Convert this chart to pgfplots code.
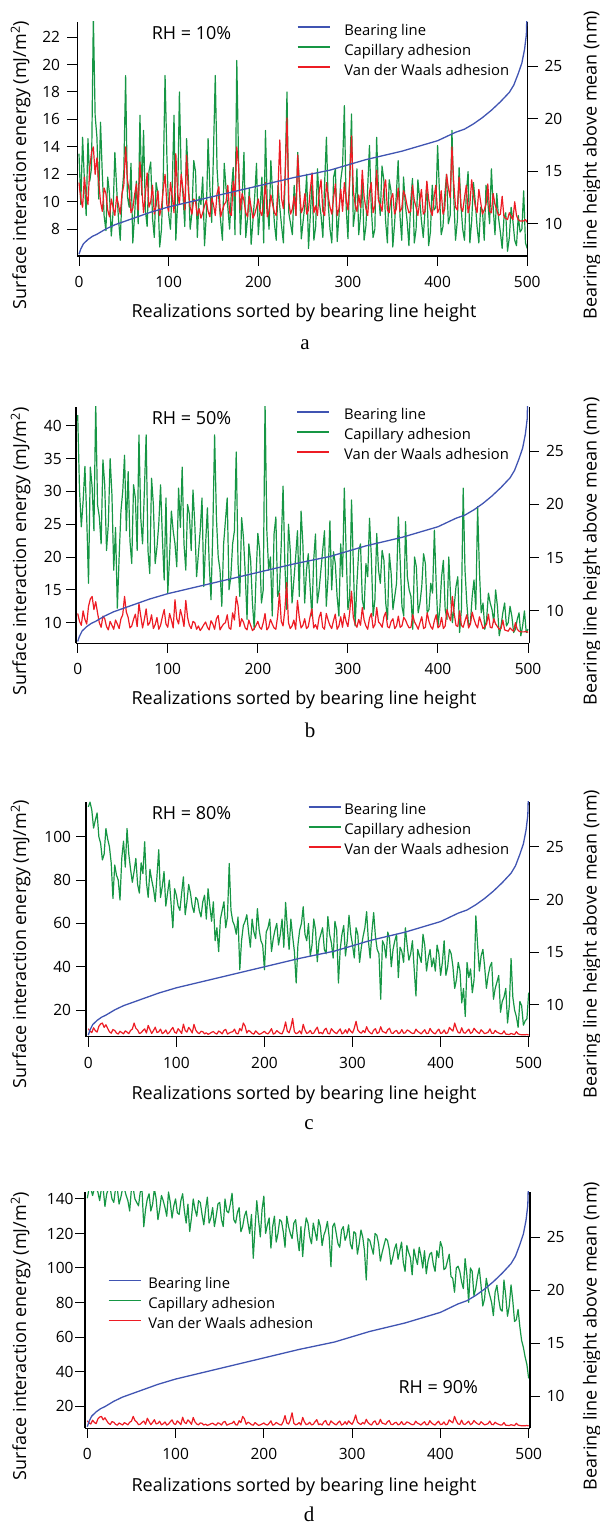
\documentclass[border=0pt]{standalone}
\usepackage{fontspec}
\setmainfont{Open Sans}
\newfontfamily\capfont{Liberation Serif}
\usepackage{pgfplots}
\pgfplotsset{compat=1.18}
\usepackage{pgfplotstable}
\definecolor{bearblue}{RGB}{64,84,178}
\definecolor{capgreen}{RGB}{22,150,68}
\definecolor{vdwred}{RGB}{237,28,36}

\pgfplotstableread{
x b
0 7.1
2 7.6
5 8.1
10 8.5
15 8.8
20 9.0
30 9.5
40 9.9
50 10.2
60 10.5
70 10.8
80 11.1
90 11.35
100 11.6
120 12.0
140 12.4
160 12.8
180 13.2
200 13.6
220 14.0
240 14.4
260 14.75
280 15.1
300 15.6
320 16.1
340 16.5
360 16.9
380 17.4
400 17.9
410 18.3
420 18.7
430 19.0
440 19.5
450 20.1
460 20.8
470 21.6
480 22.5
485 23.2
490 24.3
494 25.3
497 26.6
499 28.0
500 31
}\bearing

\pgfplotstableread{
x r ga gb gc gd
0 11.4 13.5 41.6 113.8 140.4
2 10.2 9.8 30.2 116.0 146
4 9.6 14.7 24.6 112.3 146
6 11.8 11.6 28.5 104.0 142
8 10.5 9.0 33.8 107.7 146
10 9.8 14.6 26.0 111.0 146
12 12.5 11.5 16.0 100.0 144
14 13.6 12.5 33.7 97.0 139
16 14.0 23.5 30.7 89.3 146
18 12.0 16.3 24.0 92.0 146
20 13.2 14.7 43.5 103.8 135.6
22 11.5 10.2 28.0 99.0 143
24 10.0 15.8 26.1 95.4 146
26 9.3 12.0 22.0 88.0 146
28 11.0 9.0 34.8 71.5 140
30 10.6 7.9 31.0 87.0 138
32 9.4 11.8 21.0 82.3 146
34 8.9 10.6 25.0 80.0 146
36 10.2 7.5 35.0 70.8 137
38 9.6 9.2 29.5 90.0 141
40 9.0 13.6 18.0 98.0 146
42 10.4 11.0 24.5 86.0 146
44 9.8 8.8 12.2 103.8 142
46 9.1 7.2 20.0 92.0 139
48 10.6 10.5 27.0 85.0 133
50 11.2 12.2 30.0 79.0 146
52 14.0 19.2 35.5 84.0 146
54 11.6 10.4 24.0 90.0 140
56 10.8 9.6 33.0 78.0 138
58 9.2 12.8 22.5 74.0 136
60 9.5 7.0 19.0 88.0 144
62 10.5 9.0 31.0 83.0 145
64 11.3 11.5 29.0 97.7 123.9
66 9.4 8.4 21.0 79.0 134
68 12.9 16.3 38.6 72.0 140
70 11.0 10.5 26.0 85.0 143
72 9.2 15.2 22.0 80.0 133
74 10.5 9.4 30.0 76.0 137
76 12.1 8.2 38.6 70.0 146
78 9.6 12.2 21.0 82.0 140
80 10.0 12.9 17.5 94.0 128
82 11.2 8.8 32.0 72.0 134
84 9.1 7.4 28.0 77.0 142
86 9.7 11.4 19.0 84.0 139
88 10.8 10.6 21.5 68.0 135
90 9.0 6.7 25.0 74.0 130
92 9.6 8.0 31.0 80.0 144
94 10.9 11.8 23.0 69.0 138
96 12.0 19.2 16.5 58.0 128.9
98 9.8 13.4 29.0 76.0 136
100 9.3 9.1 14.5 73.0 140
102 11.4 8.0 20.0 68.0 132
104 10.4 11.2 27.0 66.0 131
106 9.2 16.3 24.0 74.0 139
108 13.5 7.2 22.0 81.5 143
110 10.6 9.9 18.5 64.0 133
112 9.8 18.0 30.5 70.0 126
114 12.0 12.0 24.5 78.0 137
116 10.9 10.5 33.7 74.0 121.1
118 9.4 8.2 22.0 68.0 129
120 13.4 14.6 18.0 65.0 140
122 10.8 11.6 28.0 72.0 134
124 9.6 8.0 26.5 71.0 130
126 9.1 9.2 21.0 66.0 139
128 10.2 13.0 30.2 63.0 138
130 10.0 12.2 25.0 70.0 131
132 9.0 7.4 17.0 73.0 125
134 9.5 10.4 20.5 62.0 134
136 8.8 9.8 24.0 76.0 141
138 9.2 11.8 29.0 68.0 126
140 9.7 6.8 15.5 61.0 129
142 10.1 9.0 22.0 70.0 135
144 9.3 14.6 27.5 52.0 124
146 8.9 11.0 19.0 58.0 130
148 10.3 8.5 13.5 47.0 137
150 9.8 13.6 24.0 62.0 138
152 9.0 19.2 38.6 66.0 128
154 10.6 12.4 26.0 70.0 124
156 11.1 10.2 20.0 58.0 140
158 8.9 8.6 18.0 63.0 133
160 9.4 7.2 12.5 87.7 132
162 9.8 12.8 22.0 66.0 137
164 10.0 11.0 25.5 61.0 143.3
166 11.2 9.6 29.0 59.0 128
168 9.2 8.0 15.0 55.0 126
170 9.0 10.8 17.0 63.0 132
172 11.5 12.5 22.0 38.6 135
174 10.4 7.6 24.0 52.0 121
176 14.0 20.3 36.0 59.0 124
178 12.6 13.0 19.0 61.0 130
180 9.4 7.6 14.0 64.0 133
182 10.6 10.2 26.0 56.0 126
184 10.1 13.6 23.0 49.0 120
186 9.2 7.4 17.5 62.0 131
188 8.9 8.8 10.5 56.0 105.6
190 10.4 11.0 22.0 53.0 123
192 9.6 6.9 19.5 66.8 139
194 8.8 8.6 13.0 57.0 128
196 9.1 10.4 9.0 52.0 118
198 9.6 12.8 17.0 50.0 134
200 10.2 7.6 23.6 38.6 141.6
202 9.3 9.4 21.0 56.0 120
204 9.0 11.8 13.0 58.0 125
206 10.0 7.0 15.0 62.0 129
208 11.4 15.2 43.5 47.0 111.5
210 8.9 9.8 24.0 53.0 124
212 9.3 8.0 18.0 57.0 130
214 10.5 13.0 20.0 60.0 115
216 9.8 10.5 11.0 50.0 120
218 9.2 8.4 23.5 55.0 128
220 9.0 7.2 26.1 62.0 127
222 11.0 11.2 14.0 49.0 121
224 14.5 9.6 15.0 69.7 112
226 10.2 8.2 22.0 58.0 130
228 9.5 7.0 30.8 48.0 124
230 12.0 12.0 19.0 62.0 120
232 16.1 18.0 12.0 54.0 117
234 10.0 9.2 25.0 47.0 126
236 9.1 8.4 21.0 32.5 128
238 9.5 7.6 13.0 50.0 118
240 10.4 11.2 16.5 56.9 110
242 9.0 9.0 20.0 60.0 124
244 13.4 13.6 24.0 67.7 106.6
246 10.8 11.0 14.0 55.0 121
248 9.2 7.3 27.0 52.0 129
250 9.6 8.6 22.0 60.0 126
252 10.6 9.8 13.0 45.0 118
254 9.1 12.0 18.0 50.0 114
256 9.4 6.6 20.5 62.0 126
258 10.9 9.0 15.5 57.0 121
260 12.1 11.5 11.0 42.3 116
262 9.2 7.2 19.5 52.0 128
264 9.7 8.2 23.5 55.0 124
266 9.0 12.4 13.0 58.0 113
268 10.8 10.0 15.0 48.0 119
270 11.6 9.0 18.0 46.0 122
272 9.3 7.4 21.0 63.2 127
274 9.0 11.4 24.0 55.0 118
276 11.4 14.7 12.5 51.0 100.7
278 10.4 9.8 17.0 44.0 124
280 9.6 8.0 25.5 61.0 126
282 9.1 7.0 15.0 57.0 120
284 10.3 11.8 20.8 32.5 114
286 11.3 12.4 19.0 48.0 112
288 9.0 7.1 14.0 55.0 122
290 9.5 9.0 11.0 59.0 124
292 10.9 11.6 22.0 45.0 116
294 9.3 12.6 17.0 52.0 119
296 11.4 17.0 30.5 63.8 125
298 10.2 9.6 21.0 55.0 114
300 9.4 7.3 12.0 50.0 111
302 11.6 12.0 14.0 44.0 121
304 14.8 16.4 28.7 58.0 120
306 10.8 8.2 19.0 55.0 108
308 9.8 9.4 9.5 42.0 114
310 9.3 12.4 16.0 49.0 122
312 10.5 7.6 21.0 54.0 118
314 9.6 9.0 22.0 58.0 110
316 12.3 11.5 13.5 65.4 93
318 10.4 7.2 12.0 52.0 117
320 9.5 8.2 19.0 44.0 116
322 9.0 11.0 17.0 56.0 112
324 10.7 14.1 25.9 65.0 108
326 11.4 9.6 20.0 54.0 120
328 9.2 7.4 11.0 48.0 119
330 9.7 8.0 13.5 46.0 114
332 12.3 14.7 23.6 25.0 104
334 10.1 10.8 18.0 52.0 109
336 9.8 9.0 16.0 50.0 113
338 9.3 12.6 21.0 44.0 117
340 10.9 11.6 19.5 56.0 116
342 11.6 8.6 13.0 53.0 111
344 9.4 7.0 10.5 40.0 102
346 9.2 11.6 20.5 48.0 106
348 10.2 10.8 17.5 52.0 111
350 10.6 6.7 12.0 55.0 114
352 9.1 8.4 14.0 35.0 105
354 9.5 10.6 16.0 49.0 110
356 11.0 13.0 26.1 47.0 115
358 9.3 9.0 19.5 42.0 103
360 9.5 7.2 12.5 58.0 98
362 10.8 11.8 11.0 50.0 113
364 10.4 9.8 25.4 43.0 109
366 9.7 8.6 17.0 46.0 106
368 9.2 6.8 15.0 52.0 96
370 9.3 10.0 14.0 39.0 111
372 11.2 11.7 9.0 26.5 106
374 10.1 7.0 20.0 48.0 102
376 9.6 8.0 18.5 45.0 112
378 9.0 11.6 11.5 42.0 107
380 10.0 10.2 13.0 55.0 100
382 10.9 8.6 15.5 50.0 110
384 9.1 7.4 20.5 38.0 96.6
386 9.3 9.4 19.0 44.0 104
388 11.5 11.4 11.5 48.0 108
390 10.2 6.8 12.0 40.0 109
392 9.4 7.8 16.0 44.0 102
394 9.0 11.2 14.5 38.0 98
396 10.3 9.4 24.1 50.0 110
398 11.2 9.6 16.0 46.0 106
400 9.2 14.1 9.5 36.0 115.3
402 9.5 10.8 12.0 42.0 112
404 10.8 7.6 17.0 52.0 99
406 9.1 8.2 19.5 36.0 100
408 9.5 10.5 12.0 40.0 104
410 12.0 12.0 10.5 48.0 108
412 11.0 8.4 20.0 46.0 95
414 10.3 9.0 14.0 40.0 94
416 14.0 15.2 10.0 30.0 85.9
418 11.4 10.4 12.5 34.0 100
420 9.6 7.2 15.5 42.0 101
422 9.4 8.6 17.0 38.0 98
424 11.8 12.5 8.5 23.3 92
426 9.6 9.8 12.0 30.0 88
428 9.3 8.0 30.5 17.0 105.4
430 10.3 7.2 18.0 42.0 96
432 11.2 10.6 13.0 35.0 80.1
434 9.2 12.2 9.5 39.0 100
436 9.8 7.0 10.0 28.0 98
438 11.6 8.6 14.0 34.0 84
440 10.5 11.4 16.5 63.5 88
442 9.7 10.0 12.0 50.0 95
444 9.2 8.2 27.7 38.0 100
446 10.9 7.0 18.0 45.0 90
448 10.0 9.6 11.5 48.0 78
450 9.1 9.4 13.0 40.0 82
452 9.4 7.2 9.0 30.0 94
454 9.8 11.2 10.5 36.0 88
456 11.3 10.0 14.5 40.0 84
458 9.3 8.4 13.0 42.0 80
460 9.2 12.4 12.0 25.0 72.4
462 10.6 9.6 10.0 30.0 86
464 9.8 7.6 15.0 33.0 90
466 9.4 10.6 12.5 36.0 82
468 9.0 8.8 8.0 19.0 76
470 9.1 7.8 9.5 24.0 75
472 10.4 6.6 11.5 26.0 93
474 8.9 8.8 13.0 30.0 84
476 8.8 9.2 9.5 14.0 72
478 8.7 6.4 10.0 22.0 78
480 9.2 7.4 12.5 43.8 90.2
482 8.9 9.6 11.0 26.0 81
484 8.7 8.6 8.5 20.0 69
486 10.0 7.2 9.0 17.0 70
488 9.0 6.8 10.5 12.0 76
490 8.7 9.0 11.5 24.0 66
492 8.6 7.8 8.0 22.0 58
494 8.6 8.0 9.5 13.0 54
496 8.6 10.8 11.8 15.0 48.4
498 8.7 7.0 8.5 16.0 44
500 8.5 6.6 9.0 28.0 36
}\adh

\pgfplotsset{
  common/.style={
    scale only axis, anchor=south west,
    axis line style={line width=1.2bp},
    tick style={line width=1bp, black},
    tick align=inside,
    major tick length=-10bp,
    tick label style={font=\fontsize{15.5bp}{18bp}\selectfont},
    /pgf/number format/assume math mode=true,
  },
  leftax/.style={common,
    axis x line*=bottom, axis y line*=left,
    xtick={0,100,...,500},
    xticklabel style={yshift=-16.8bp},
    legend cell align=left,
    legend style={draw=none, fill=none, inner sep=0pt, outer sep=0pt, anchor=north west,
      font=\fontsize{14.8bp}{17bp}\selectfont, row sep=0pt,
      nodes={inner sep=0pt, text height=14bp, text depth=6bp}},
    legend image code/.code={\draw[##1] (0bp,4bp) -- (32bp,4bp);},
  },
  rightax/.style={common, axis x line=none, axis y line*=right,
    ytick={10,15,20,25}, yticklabel style={xshift=13.3bp}},
  gline/.style={capgreen, line width=1.2bp, line join=round},
  rline/.style={vdwred, line width=1.2bp, line join=round},
  bline/.style={bearblue, line width=1.3bp, line join=round},
}

\begin{document}
\begin{tikzpicture}
\useasboundingbox (0,0) rectangle (600bp,1526bp);

% ---------- panel a ----------
\begin{axis}[leftax, at={(77.3bp,1270bp)}, width=450.4bp, height=234bp,
  xmin=-1.9, xmax=500.5, ymin=6.05, ymax=23.1, ytick={8,10,...,22},
  yticklabel style={xshift=-13.8bp},
  legend style={at={(axis description cs:0.4878,1.004)},
    /tikz/every odd column/.append style={column sep=14bp}}]
\addlegendimage{bline}
\addlegendentry{Bearing line}
\addplot[gline] table[x=x,y=ga]{\adh};
\addlegendentry{Capillary adhesion}
\addplot[rline] table[x=x,y=r]{\adh};
\addlegendentry{Van der Waals adhesion}
\end{axis}
\begin{axis}[rightax, at={(77.3bp,1270bp)}, width=450.4bp, height=234bp,
  xmin=-1.9, xmax=500.5, ymin=6.93, ymax=29.2]
\addplot[bline] table[x=x,y=b]{\bearing};
\end{axis}

% ---------- panel b ----------
\begin{axis}[leftax, at={(76bp,882.7bp)}, width=453.3bp, height=236.6bp,
  xmin=-1.9, xmax=501.4, ymin=6.86, ymax=42.9, ytick={10,15,...,40},
  yticklabel style={xshift=-10.8bp},
  legend style={at={(axis description cs:0.4869,1.003)},
    /tikz/every odd column/.append style={column sep=14bp}}]
\addlegendimage{bline}
\addlegendentry{Bearing line}
\addplot[gline] table[x=x,y=gb]{\adh};
\addlegendentry{Capillary adhesion}
\addplot[rline] table[x=x,y=r]{\adh};
\addlegendentry{Van der Waals adhesion}
\end{axis}
\begin{axis}[rightax, at={(76bp,882.7bp)}, width=453.3bp, height=236.6bp,
  xmin=-1.9, xmax=501.4, ymin=6.93, ymax=29.2]
\addplot[bline] table[x=x,y=b]{\bearing};
\end{axis}

% ---------- panel c ----------
\begin{axis}[leftax, at={(86bp,489.3bp)}, width=443.3bp, height=235bp,
  xmin=-2.6, xmax=500.7, ymin=7.7, ymax=116.2, ytick={20,40,...,100},
  yticklabel style={xshift=-11.5bp},
  legend style={at={(axis description cs:0.5008,1.003)},
    /tikz/every odd column/.append style={column sep=3bp}}]
\addlegendimage{bline}
\addlegendentry{Bearing line}
\addplot[gline] table[x=x,y=gc]{\adh};
\addlegendentry{Capillary adhesion}
\addplot[rline] table[x=x,y=r]{\adh};
\addlegendentry{Van der Waals adhesion}
\end{axis}
\begin{axis}[rightax, at={(86bp,489.3bp)}, width=443.3bp, height=235bp,
  xmin=-2.6, xmax=500.7, ymin=6.95, ymax=29.3]
\addplot[bline] table[x=x,y=b]{\bearing};
\end{axis}

% ---------- panel d ----------
\begin{axis}[leftax, at={(85bp,97.7bp)}, width=445bp, height=236.6bp,
  xmin=-2.6, xmax=501.5, ymin=7.1, ymax=144.2, ytick={20,40,...,140},
  yticklabel style={xshift=-8bp},
  legend style={at={(axis description cs:0.0517,0.651)},
    /tikz/every odd column/.append style={column sep=7bp}}]
\addlegendimage{bline}
\addlegendentry{Bearing line}
\addplot[gline] table[x=x,y=gd]{\adh};
\addlegendentry{Capillary adhesion}
\addplot[rline] table[x=x,y=r]{\adh};
\addlegendentry{Van der Waals adhesion}
\end{axis}
\begin{axis}[rightax, at={(85bp,97.7bp)}, width=445bp, height=236.6bp,
  xmin=-2.6, xmax=501.5, ymin=6.95, ymax=29.3]
\addplot[bline] table[x=x,y=b]{\bearing};
\end{axis}

% ---------- texts ----------
\tikzset{lab/.style={font=\fontsize{18bp}{21bp}\selectfont},
         captext/.style={font=\capfont\fontsize{21bp}{24bp}\selectfont, anchor=base}}
\foreach \yc in {1361,974.5,582,190}{
  \node[lab, rotate=90] at (20.5bp,\yc bp) {Surface interaction energy (mJ/m\textsuperscript{2})};
  \node[lab, rotate=90] at (592bp,\yc bp) {Bearing line height above mean (nm)};
}
\foreach \yb in {1208,821,426,35}{
  \node[lab, anchor=base] at (304bp,\yb bp) {Realizations sorted by bearing line height};
}
\node[lab, anchor=base west] at (148.3bp,1486.7bp) {RH = 10\%};
\node[lab, anchor=base west] at (148.3bp,1101.7bp) {RH = 50\%};
\node[lab, anchor=base west] at (148.3bp,706.7bp) {RH = 80\%};
\node[lab, anchor=base west] at (395bp,132.7bp) {RH = 90\%};
\node[captext] at (305bp,1176bp) {a};
\node[captext] at (310bp,788bp) {b};
\node[captext] at (309bp,396bp) {c};
\node[captext] at (309bp,4.3bp) {d};
\end{tikzpicture}
\end{document}
